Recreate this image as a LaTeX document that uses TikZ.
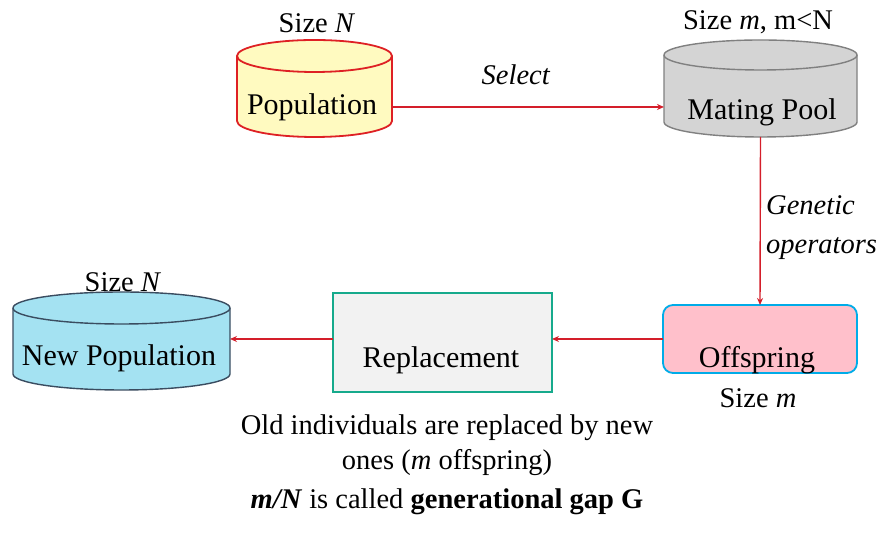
\documentclass[tikz,border=0pt]{standalone}
\usepackage{fontspec}
\setmainfont{Liberation Serif}
\usetikzlibrary{arrows.meta,calc}

\definecolor{popfill}{RGB}{255,250,192}
\definecolor{popline}{RGB}{222,32,36}
\definecolor{poolfill}{RGB}{212,212,212}
\definecolor{poolline}{RGB}{128,128,128}
\definecolor{newfill}{RGB}{164,226,242}
\definecolor{newline}{RGB}{58,76,96}
\definecolor{repfill}{RGB}{242,242,242}
\definecolor{repline}{RGB}{22,170,140}
\definecolor{offfill}{RGB}{255,192,203}
\definecolor{offline}{RGB}{0,172,232}
\definecolor{arrowred}{RGB}{212,30,42}

% cylinder drawn around an (invisible) node: #1 node, #2 x radius, #3 y radius, #4 style
\newcommand{\drum}[4]{%
  \path[#4] ([yshift=-#3]#1.north west) -- ([yshift=#3]#1.south west)
    arc[start angle=180,end angle=360,x radius=#2,y radius=#3]
    -- ([yshift=-#3]#1.north east)
    arc[start angle=0,end angle=180,x radius=#2,y radius=#3] -- cycle;
  \path[#4,fill=none] ([yshift=-#3]#1.north west)
    arc[start angle=180,end angle=360,x radius=#2,y radius=#3];}

\tikzset{
  holder/.style={inner sep=0pt,outer sep=0pt},
  txt/.style={inner sep=0pt,font=\fontsize{30}{34}\selectfont},
  small/.style={inner sep=0pt,font=\fontsize{28.5}{32}\selectfont},
  arr/.style={draw=arrowred,line width=1.4pt,-{Stealth[length=7pt,width=6pt]}}
}

\begin{document}
\begin{tikzpicture}[x=1pt,y=1pt]
\useasboundingbox (0,0) rectangle (891,537);

% placeholders for the three cylinders
\node[holder,minimum width=155pt,minimum height=97pt] (pop) at (314.5,448.5) {};
\node[holder,minimum width=193pt,minimum height=97pt] (pool) at (760.5,448.5) {};
\node[holder,minimum width=217pt,minimum height=98pt] (newpop) at (121.5,196) {};

\drum{pop}{77.5pt}{16pt}{fill=popfill,draw=popline,line width=1.8pt}
\drum{pool}{96.5pt}{15pt}{fill=poolfill,draw=poolline,line width=1.4pt}
\drum{newpop}{108.5pt}{16pt}{fill=newfill,draw=newline,line width=1.4pt}

% boxes
\node[holder,draw=repline,fill=repfill,line width=1.8pt,
      minimum width=219pt,minimum height=99pt] (rep) at (442.5,194.5) {};
\node[holder,draw=offline,fill=offfill,line width=1.8pt,rounded corners=10pt,
      minimum width=194pt,minimum height=68pt] (off) at (760,198) {};

% texts
\node[small] (popsize) at (317,514) {Size \textit{N}};
\node[txt] (poptxt) at (312,430) {Population};
\node[small] (poolsize) at (758,515) {Size \textit{m}, m<N};
\node[txt] (pooltxt) at (762,425) {Mating Pool};
\node[small] (newsize) at (123,255) {Size \textit{N}};
\node[txt] (newtxt) at (119,179) {New Population};
\node[txt] (reptxt) at (441,177) {Replacement};
\node[txt] (offtxt) at (757,177) {Offspring};
\node[small] (offsize) at (758,139) {Size \textit{m}};

\node[small] (sel) at (516,462) {\textit{Select}};
\node[small,anchor=west,align=left,font=\fontsize{28.5}{39}\selectfont] (gen) at (766,309.5)
  {\textit{Genetic}\\\textit{operators}};

\node[small] (note1) at (447,109) {Old individuals are replaced by new};
\node[small] (note2) at (447,74) {ones (\textit{m} offspring)};
\node[small] (note3) at (447,35) {\textbf{\textit{m/N}} is called \textbf{generational gap G}};

% connectors
\draw[arr] (poptxt -| pop.east) -- (poptxt -| pool.west);
\draw[arr] (pool.south) -- (off.north);
\draw[arr] (off.west) -- (off.west -| rep.east);
\draw[arr] (off.west -| rep.west) -- (off.west -| newpop.east);
\end{tikzpicture}
\end{document}
